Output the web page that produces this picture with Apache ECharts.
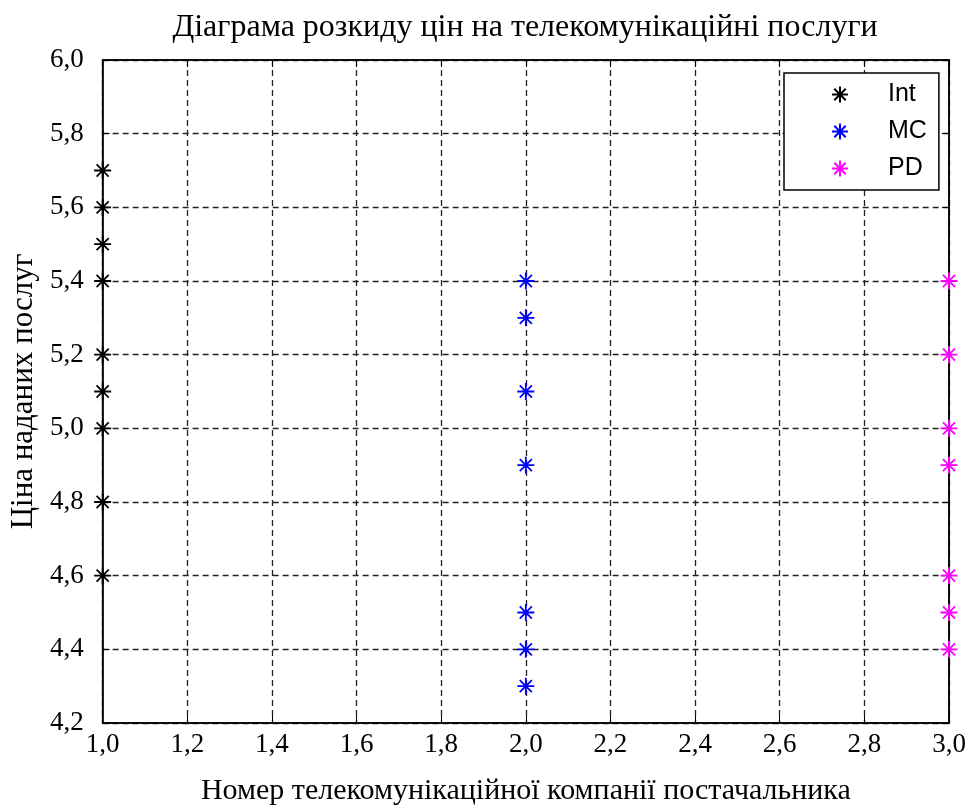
<!DOCTYPE html>
<html>
<head>
<meta charset="utf-8">
<script src="https://cdn.jsdelivr.net/npm/echarts@6/dist/echarts.min.js"></script>
<style>html,body{margin:0;padding:0;background:#fff;}#c{width:973px;height:811px;}</style>
</head>
<body>
<div id="c"></div>
<script>
// Data
const seriesNames = ['Int', 'MC', 'PD'];
const companyX = [1, 2, 3];
const intPrices = [5.7, 5.6, 5.5, 5.4, 5.2, 5.1, 5.0, 4.8, 4.6];
const mcPrices = [5.4, 5.3, 5.1, 4.9, 4.5, 4.4, 4.3];
const pdPrices = [5.4, 5.2, 5.0, 4.9, 4.6, 4.5, 4.4];
const colors = ['#000000', '#0000ff', '#ff00ff'];
const titleText = 'Діаграма розкиду цін на телекомунікаційні послуги';
const xName = 'Номер телекомунікаційної компанії постачальника';
const yName = 'Ціна наданих послуг';

const star = 'path://M0,-8L0,8M-8,0L8,0M-5.7,-5.7L5.7,5.7M-5.7,5.7L5.7,-5.7';
const allPrices = [intPrices, mcPrices, pdPrices];
const fmt = v => v.toFixed(1).replace('.', ',');
const serif = '"Liberation Serif", "Times New Roman", serif';
const gridLine = { show: true, lineStyle: { color: '#222', type: [6, 4], width: 1.3 } };

const chart = echarts.init(document.getElementById('c'));
chart.setOption({
  animation: false,
  backgroundColor: '#fff',
  title: {
    text: titleText, left: 520, top: 7, textAlign: 'center',
    textStyle: { fontFamily: serif, fontSize: 32, fontWeight: 'normal', color: '#000' }
  },
  grid: { left: 102, top: 60, right: 24, bottom: 86, show: true, borderColor: '#000', borderWidth: 1.5 },
  legend: {
    orient: 'vertical', left: 784, top: 73,
    padding: [9, 12, 9, 47],
    itemWidth: 86, itemHeight: 16, itemGap: 12,
    borderColor: '#000', borderWidth: 1.5, backgroundColor: '#fff',
    textStyle: { fontFamily: '"Liberation Sans", Arial, sans-serif', fontSize: 25, lineHeight: 25, color: '#000' },
    data: seriesNames
  },
  xAxis: [{
    type: 'value', min: 1, max: 3, interval: 0.2,
    name: xName, nameLocation: 'middle', nameGap: 53,
    nameTextStyle: { fontFamily: serif, fontSize: 30, color: '#000' },
    axisLine: { show: true, onZero: false, lineStyle: { color: '#000', width: 1.5 } },
    axisTick: { show: true, inside: true, length: 7, lineStyle: { color: '#000' } },
    axisLabel: { formatter: fmt, fontFamily: serif, fontSize: 27, color: '#000', margin: 8 },
    splitLine: gridLine
  }, {
    type: 'value', min: 1, max: 3, interval: 0.2, position: 'top',
    axisLine: { show: true, onZero: false, lineStyle: { color: '#000', width: 1.5 } },
    axisTick: { show: true, inside: true, length: 7, lineStyle: { color: '#000' } },
    axisLabel: { show: false }, splitLine: { show: false }
  }],
  yAxis: [{
    type: 'value', min: 4.2, max: 6.0, interval: 0.2,
    name: yName, nameLocation: 'middle', nameGap: 56,
    nameTextStyle: { fontFamily: serif, fontSize: 31, color: '#000' },
    axisLine: { show: true, onZero: false, lineStyle: { color: '#000', width: 1.5 } },
    axisTick: { show: true, inside: true, length: 7, lineStyle: { color: '#000' } },
    axisLabel: { formatter: fmt, fontFamily: serif, fontSize: 27, color: '#000', margin: 19 },
    splitLine: gridLine
  }, {
    type: 'value', min: 4.2, max: 6.0, interval: 0.2, position: 'right',
    axisLine: { show: true, onZero: false, lineStyle: { color: '#000', width: 1.5 } },
    axisTick: { show: true, inside: true, length: 7, lineStyle: { color: '#000' } },
    axisLabel: { show: false }, splitLine: { show: false }
  }],
  series: seriesNames.map((n, i) => ({
    name: n, type: 'scatter', clip: false,
    symbol: star, symbolSize: 17,
    itemStyle: { color: colors[i], borderColor: colors[i], borderWidth: 1.8, opacity: 1 },
    data: allPrices[i].map(p => [companyX[i], p]),
    z: 5
  }))
});
</script>
</body>
</html>
